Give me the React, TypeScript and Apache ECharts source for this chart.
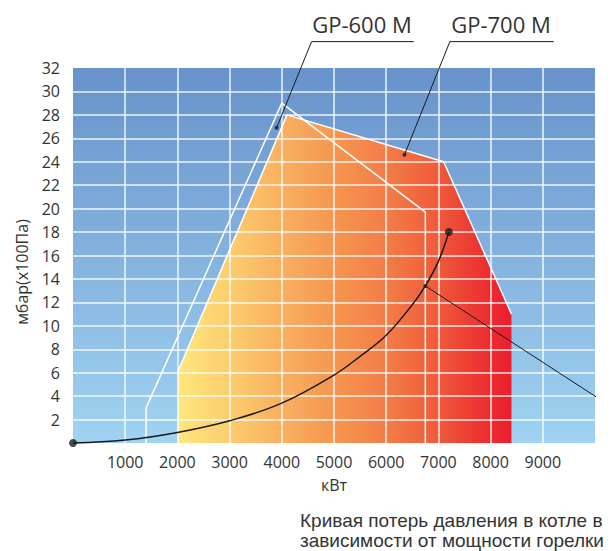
import React, { useEffect, useRef } from "react";
import * as echarts from "echarts";

// Tick labels
const xMin = 0;
const xMax = 10000;
const xStep = 1000;
const yMin = 0;
const yMax = 32;
const yStep = 2;

// GP-700 M working field (filled)
const gp700X = [2000, 2000, 4100, 7100, 8400, 8400];
const gp700Y = [0, 6, 28, 24, 11, 0];

// GP-600 M working field (outline)
const gp600X = [1400, 1400, 4000, 6750, 6750];
const gp600Y = [0, 3, 29, 19.7, 0];

// Boiler pressure-loss curve
const curveX = [0, 1000, 2000, 3000, 4000, 5000, 5500, 6000, 6500, 6750, 7000, 7200];
const curveY = [0, 0.25, 0.9, 1.9, 3.4, 5.8, 7.4, 9.2, 11.8, 13.4, 15.5, 18];

// Leader lines
const lead600X = [3900, 4570, 6530];
const lead600Y = [26.9, 34.25, 34.25];
const lead700X = [6350, 7220, 9210];
const lead700Y = [24.6, 34.25, 34.25];
const leadCurveX = [6750, 10600];
const leadCurveY = [13.4, 2.26];

const zip = (xs: number[], ys: number[]) => xs.map((x, i) => [x, ys[i]]);

export default function App() {
  const ref = useRef<HTMLDivElement>(null);
  useEffect(() => {
    document.body.style.margin = "0";
    const chart = echarts.init(ref.current!, null, { renderer: "svg" });
    const font = "'Open Sans', sans-serif";
    const textColor = "#333333";
    const gridLine = { color: "rgba(255,255,255,0.88)", width: 1.5 };
    chart.setOption({
      animation: false,
      grid: {
        left: 73,
        top: 68,
        width: 522,
        height: 375,
        show: true,
        borderWidth: 0,
        backgroundColor: new echarts.graphic.LinearGradient(0, 0, 0, 1, [
          { offset: 0, color: "#6892cb" },
          { offset: 1, color: "#a0d3f2" },
        ]),
      },
      xAxis: {
        type: "value",
        min: xMin,
        max: xMax,
        interval: xStep,
        z: 3,
        axisLine: { show: false },
        axisTick: { show: false },
        axisLabel: {
          margin: 11,
          fontSize: 16,
          fontFamily: font,
          color: textColor,
          formatter: (v: number) => (v === xMin || v === xMax ? "" : String(v)),
        },
        splitLine: { show: true, showMinLine: false, showMaxLine: false, lineStyle: gridLine },
        name: "кВт",
        nameLocation: "middle",
        nameGap: 34,
        nameTextStyle: { fontSize: 16, fontFamily: font, color: textColor },
      },
      yAxis: {
        type: "value",
        min: yMin,
        max: yMax,
        interval: yStep,
        z: 3,
        axisLine: { show: false },
        axisTick: { show: false },
        axisLabel: {
          margin: 13,
          fontSize: 16,
          fontFamily: font,
          color: textColor,
          formatter: (v: number) => (v === yMin ? "" : String(v)),
        },
        splitLine: { show: true, showMinLine: false, showMaxLine: false, lineStyle: gridLine },
      },
      graphic: [
        {
          type: "text",
          x: 22,
          y: 272,
          rotation: Math.PI / 2,
          style: {
            text: "мбар(x100Па)",
            font: `16px ${font}`,
            fill: textColor,
            textAlign: "center",
            textVerticalAlign: "middle",
          },
        },
        {
          type: "text",
          x: 362,
          y: 24,
          style: {
            text: "GP-600 M",
            font: `22px ${font}`,
            fill: textColor,
            textAlign: "center",
            textVerticalAlign: "middle",
          },
        },
        {
          type: "text",
          x: 501,
          y: 24,
          style: {
            text: "GP-700 M",
            font: `22px ${font}`,
            fill: textColor,
            textAlign: "center",
            textVerticalAlign: "middle",
          },
        },
        {
          type: "text",
          x: 300,
          y: 510,
          style: {
            text: "Кривая потерь давления в котле в\nзависимости от мощности горелки",
            font: `19px 'Liberation Sans', Arial, sans-serif`,
            fill: textColor,
            lineHeight: 20,
            textAlign: "left",
            textVerticalAlign: "top",
          },
        },
      ],
      series: [
        {
          type: "line",
          z: 2,
          data: zip(gp700X, gp700Y),
          symbol: "none",
          lineStyle: { width: 0 },
          areaStyle: {
            opacity: 1,
            color: new echarts.graphic.LinearGradient(0, 0, 1, 0, [
              { offset: 0, color: "#fee77d" },
              { offset: 0.16, color: "#fccc6d" },
              { offset: 0.31, color: "#f9b060" },
              { offset: 0.47, color: "#f6964f" },
              { offset: 0.63, color: "#f37c47" },
              { offset: 0.78, color: "#ef5a3a" },
              { offset: 0.9, color: "#ec3532" },
              { offset: 1, color: "#ed1c2e" },
            ]),
          },
        },
        {
          type: "line",
          z: 4,
          data: zip(gp700X.slice(1, 5), gp700Y.slice(1, 5)),
          symbol: "none",
          lineStyle: { color: "#ffffff", width: 1.5 },
        },
        {
          type: "line",
          z: 4,
          data: zip(gp600X, gp600Y),
          symbol: "none",
          lineStyle: { color: "#ffffff", width: 1.5 },
        },
        {
          type: "line",
          z: 5,
          data: zip(curveX, curveY),
          smooth: 0.4,
          symbol: "none",
          clip: false,
          lineStyle: { color: "#1a1a1a", width: 1.5 },
        },
        {
          type: "line",
          z: 5,
          data: zip(lead600X, lead600Y),
          symbol: "none",
          clip: false,
          lineStyle: { color: "#1a1a1a", width: 1 },
        },
        {
          type: "line",
          z: 5,
          data: zip(lead700X, lead700Y),
          symbol: "none",
          clip: false,
          lineStyle: { color: "#1a1a1a", width: 1 },
        },
        {
          type: "line",
          z: 5,
          data: zip(leadCurveX, leadCurveY),
          symbol: "none",
          clip: false,
          lineStyle: { color: "#1a1a1a", width: 1 },
        },
        {
          type: "scatter",
          z: 6,
          clip: false,
          symbolSize: 8,
          itemStyle: { color: "#1a1a1a" },
          data: [
            [curveX[0], curveY[0]],
            [curveX[curveX.length - 1], curveY[curveY.length - 1]],
          ],
        },
        {
          type: "scatter",
          z: 6,
          clip: false,
          symbolSize: 4,
          itemStyle: { color: "#1a1a1a" },
          data: [
            [lead600X[0], lead600Y[0]],
            [lead700X[0], lead700Y[0]],
            [leadCurveX[0], leadCurveY[0]],
          ],
        },
      ],
    });
    return () => chart.dispose();
  }, []);
  return <div ref={ref} style={{ width: 615, height: 551 }} />;
}
